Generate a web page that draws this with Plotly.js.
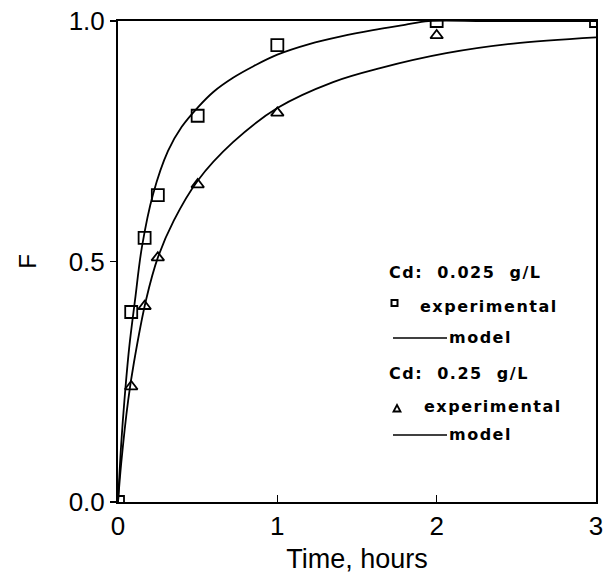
<!DOCTYPE html>
<html>
<head>
<meta charset="utf-8">
<script src="https://cdn.plot.ly/plotly-3.0.1.min.js"></script>
<style>
  html, body { margin: 0; padding: 0; background: #fff; }
  #chart { width: 606px; height: 574px; }
</style>
</head>
<body>
<div id="chart"></div>
<script>
// ---- data ----
const expTime025 = [0, 0.083, 0.167, 0.25, 0.5, 1.0, 2.0, 3.0];
const expF025    = [0, 0.395, 0.549, 0.638, 0.803, 0.950, 1.0, 1.0];

const expTime25  = [0.083, 0.167, 0.25, 0.5, 1.0, 2.0];
const expF25     = [0.240, 0.407, 0.508, 0.660, 0.809, 0.970];

const modelTime025 = [0, 0.02, 0.04, 0.07, 0.107, 0.15, 0.22, 0.314, 0.4, 0.5, 0.6, 0.722, 0.85, 1.0, 1.2, 1.4, 1.6, 1.8, 1.95, 2.3, 2.7, 3.0];
const modelF025    = [0, 0.12, 0.21, 0.32, 0.42, 0.53, 0.64, 0.73, 0.78, 0.82, 0.853, 0.882, 0.906, 0.93, 0.952, 0.968, 0.981, 0.992, 1.0, 1.0, 1.0, 1.0];

const modelTime25 = [0, 0.02, 0.064, 0.1, 0.176, 0.251, 0.35, 0.5, 0.722, 1.0, 1.35, 1.645, 2.06, 2.48, 3.0];
const modelF25    = [0, 0.08, 0.212, 0.29, 0.42, 0.509, 0.585, 0.668, 0.748, 0.819, 0.873, 0.902, 0.933, 0.953, 0.966];

const xTickVals = [0, 1, 2, 3];
const xTickText = ['0', '1', '2', '3'];
const yTickVals = [0, 0.5, 1.0];
const yTickText = ['0.0', '0.5', '1.0'];

const legendGroup1 = 'Cd:  0.025  g/L';
const legendGroup2 = 'Cd:  0.25  g/L';
const legendExp = 'experimental';
const legendModel = 'model';

// ---- traces ----
const traces = [
  { x: modelTime025, y: modelF025, mode: 'lines', type: 'scatter',
    line: { color: '#000', width: 1.8, shape: 'spline', smoothing: 1 }, hoverinfo: 'skip' },
  { x: modelTime25, y: modelF25, mode: 'lines', type: 'scatter',
    line: { color: '#000', width: 1.8, shape: 'spline', smoothing: 1 }, hoverinfo: 'skip' },
  { x: expTime025, y: expF025, mode: 'markers', type: 'scatter',
    marker: { symbol: 'square-open', size: 12, color: '#000', line: { width: 1.8, color: '#000' } } },
  { x: expTime25, y: expF25, mode: 'markers', type: 'scatter',
    marker: { symbol: 'triangle-up-open', size: 11, color: '#000', line: { width: 1.8, color: '#000' } } }
];

// ---- legend (drawn as annotations + shapes in paper coords) ----
const L = 118, R = 596, T = 21, B = 502;
const px = v => (v - L) / (R - L);
const py = v => (B - v) / (B - T);
const legFont = { family: 'DejaVu Sans', size: 16, color: '#000', weight: 'bold' };

const annotations = [
  { text: legendGroup1, x: px(388), y: py(272) },
  { text: legendExp,    x: px(419), y: py(306) },
  { text: legendModel,  x: px(448), y: py(337) },
  { text: legendGroup2, x: px(388), y: py(373) },
  { text: legendExp,    x: px(423), y: py(407) },
  { text: legendModel,  x: px(448), y: py(434) }
].map(a => Object.assign({ xref: 'paper', yref: 'paper', xanchor: 'left', yanchor: 'middle', align: 'left',
                            showarrow: false, borderpad: 0, font: legFont }, a));

const shapes = [
  { type: 'rect', xref: 'paper', yref: 'paper', x0: px(391.5), x1: px(397.5), y0: py(306), y1: py(300),
    line: { color: '#000', width: 2 } },
  { type: 'line', xref: 'paper', yref: 'paper', x0: px(393), x1: px(447), y0: py(338), y1: py(338),
    line: { color: '#000', width: 1.5 } },
  { type: 'path', xref: 'paper', yref: 'paper',
    path: `M ${px(393.5)},${py(411.5)} L ${px(400.5)},${py(411.5)} L ${px(397)},${py(405)} Z`,
    line: { color: '#000', width: 1.8 } },
  { type: 'line', xref: 'paper', yref: 'paper', x0: px(393), x1: px(447), y0: py(435), y1: py(435),
    line: { color: '#000', width: 1.5 } }
];

const axisFont = { family: 'Liberation Sans, Arial, sans-serif', size: 26, color: '#000' };

const layout = {
  width: 606, height: 574,
  margin: { l: L, r: 606 - R, t: T, b: 574 - B, pad: 0 },
  paper_bgcolor: '#fff', plot_bgcolor: '#fff',
  showlegend: false,
  font: axisFont,
  xaxis: {
    range: [0, 3], tickvals: xTickVals, ticktext: xTickText,
    ticks: 'inside', ticklen: 7, tickwidth: 1.5, tickcolor: '#000',
    showline: true, linecolor: '#000', linewidth: 2, mirror: true,
    showgrid: false, zeroline: false, tickfont: axisFont,
    title: { text: 'Time, hours', font: { family: 'Liberation Sans, Arial, sans-serif', size: 27, color: '#000' }, standoff: 12 }
  },
  yaxis: {
    range: [0, 1.0], tickvals: yTickVals, ticktext: yTickText,
    ticks: 'outside', ticklen: 6, tickwidth: 1.5, tickcolor: '#000',
    showline: true, linecolor: '#000', linewidth: 2, mirror: true,
    showgrid: false, zeroline: false, tickfont: axisFont,
    title: { text: 'F', font: { family: 'Liberation Sans, Arial, sans-serif', size: 24, color: '#000' }, standoff: 25 }
  },
  annotations: annotations,
  shapes: shapes
};

Plotly.newPlot('chart', traces, layout, { staticPlot: true, displayModeBar: false }).then(() => {
  document.querySelectorAll('.annotation-text').forEach(el => { el.style.letterSpacing = '1.5px'; });
});
</script>
</body>
</html>
